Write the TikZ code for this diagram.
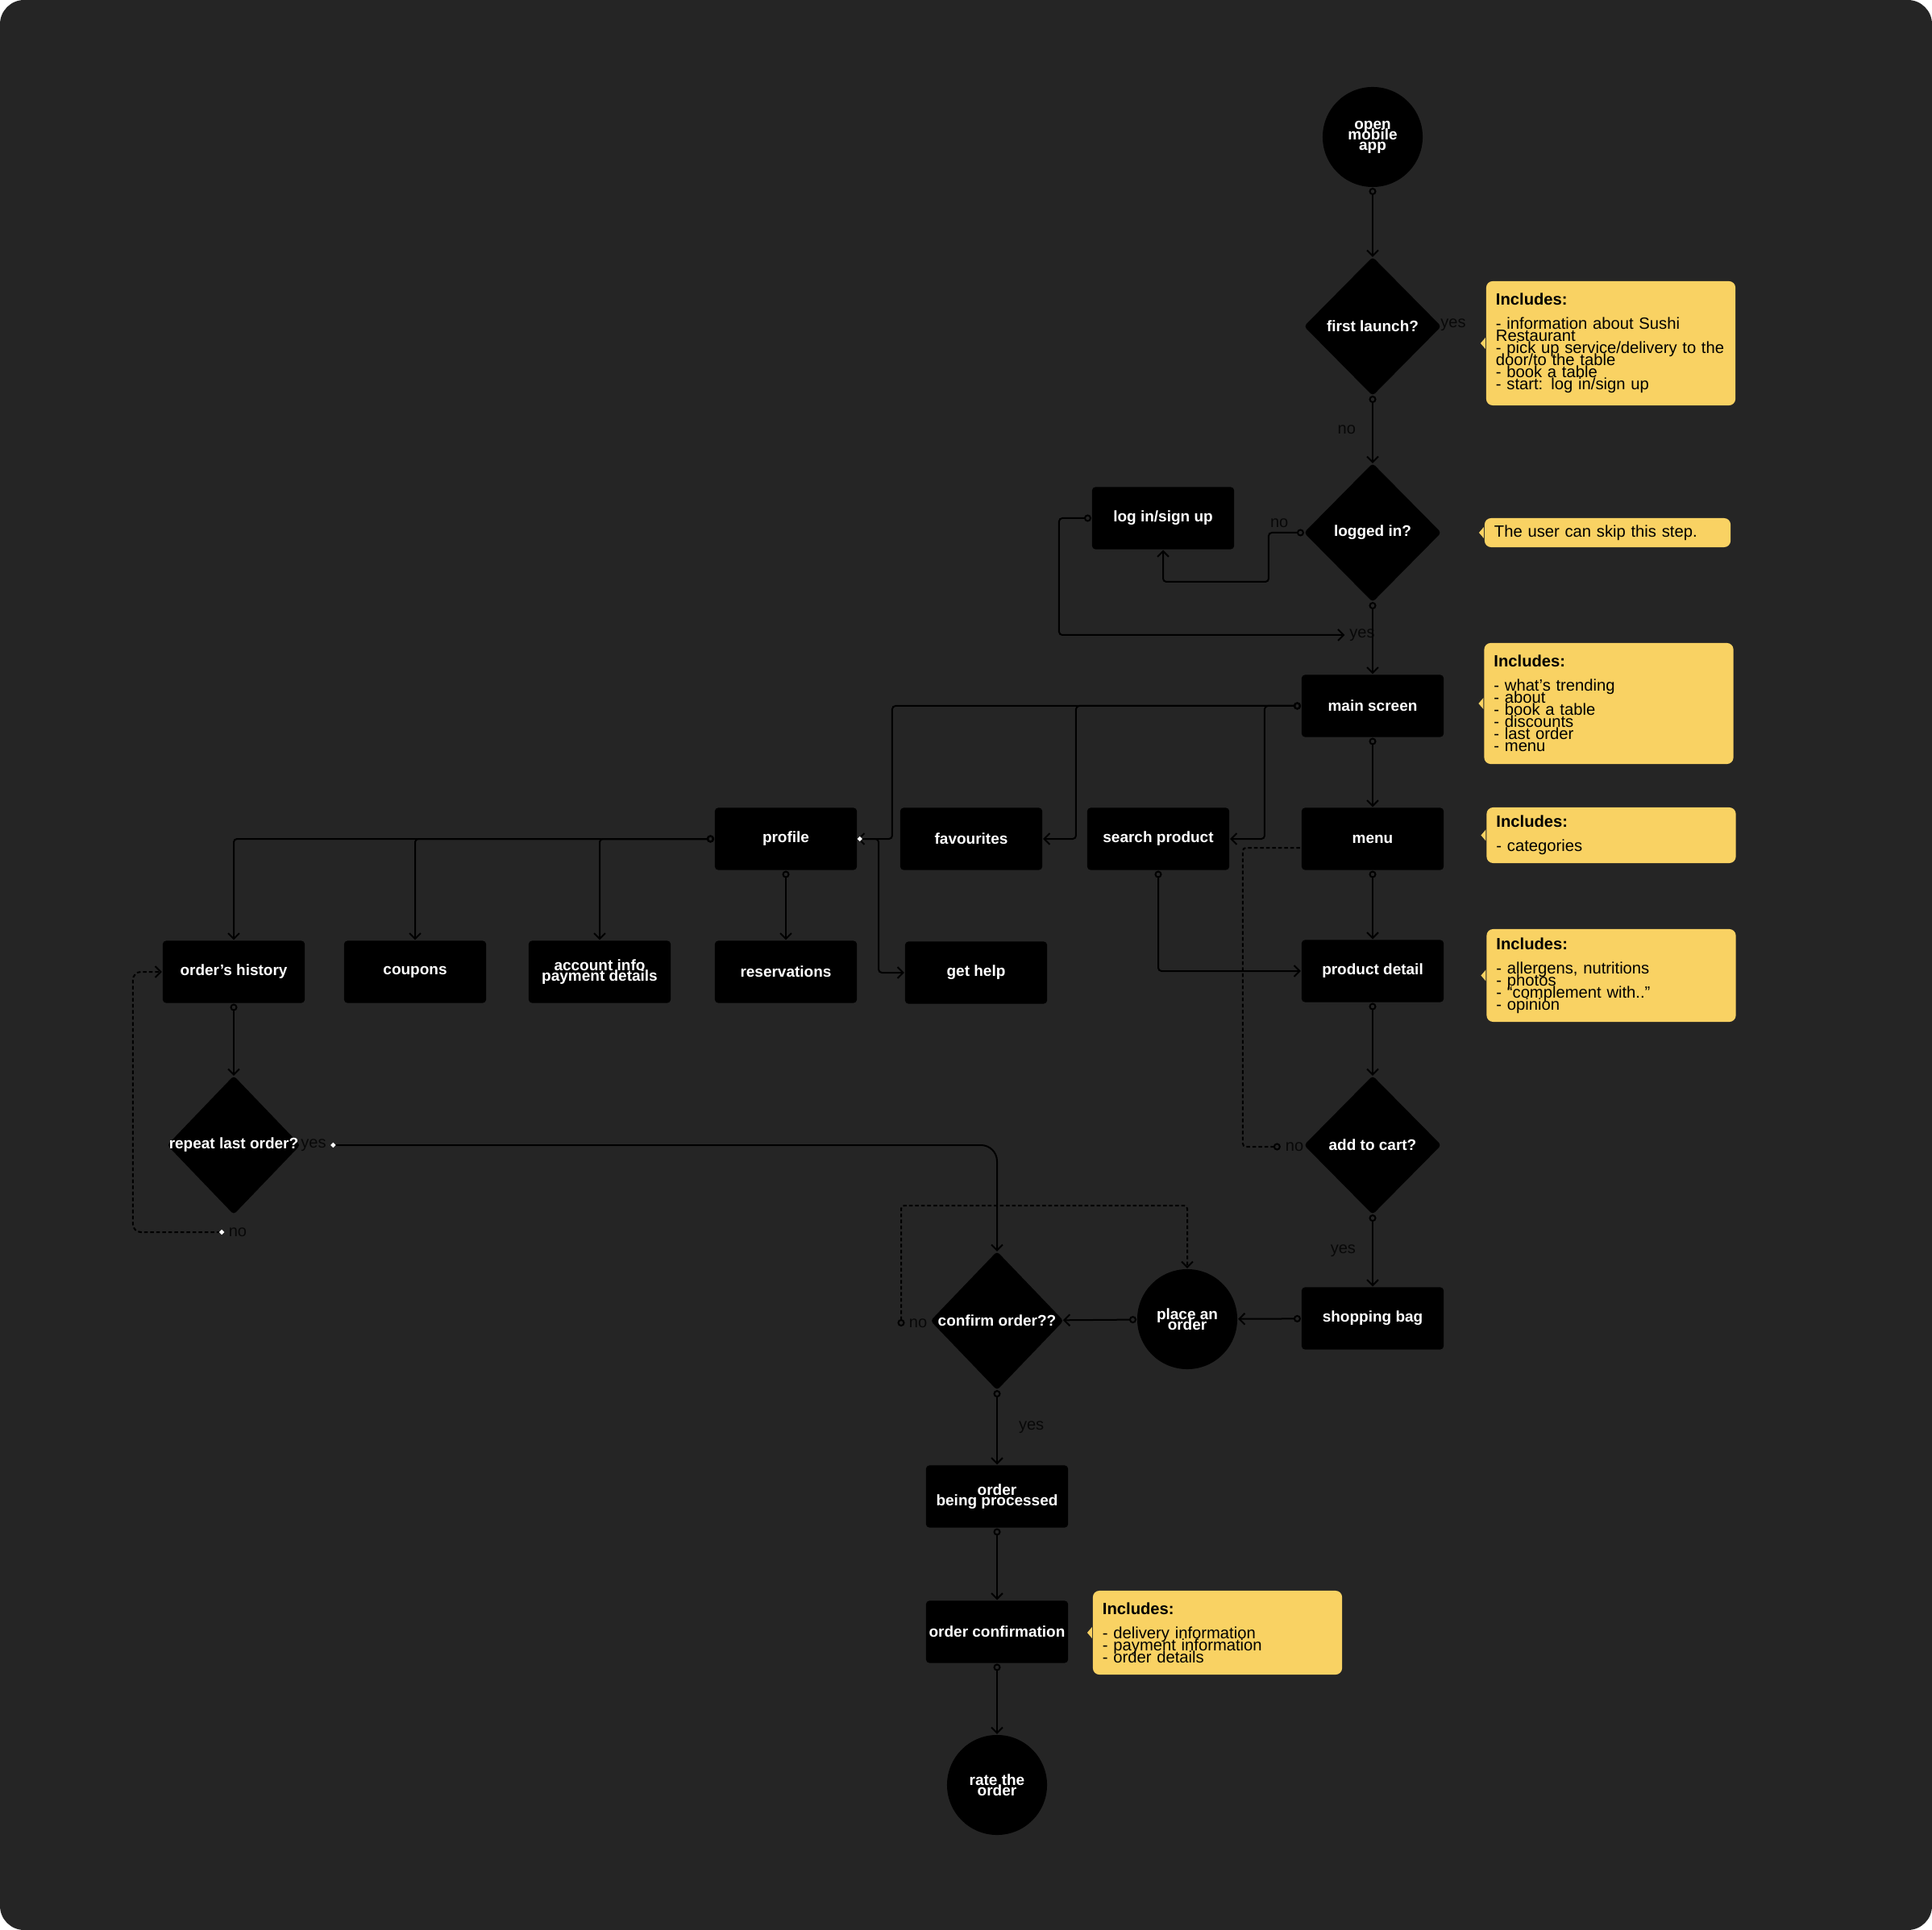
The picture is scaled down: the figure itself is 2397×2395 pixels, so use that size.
\documentclass[tikz,border=0pt]{standalone}
\usepackage{fontspec}
\setmainfont{Liberation Sans}
\usetikzlibrary{arrows.meta, shapes.geometric}
\definecolor{boardbg}{RGB}{37,37,37}
\definecolor{noteyel}{RGB}{249,210,99}
\definecolor{lbldark}{RGB}{8,8,8}
\newcommand\tightlines{\setlength{\lineskiplimit}{-10pt}}

\begin{document}
\begin{tikzpicture}[
    x=0.01cm, y=-0.01cm,
    line width=0.2mm,
    mark/.tip={Circle[open, length=0.9mm]},
    dot/.tip={Circle[length=0.55mm, color=white, fill=white]},
    barb/.tip={Straight Barb[length=0.7mm, width=1.4mm]},
    box/.style={rectangle, fill=black, rounded corners=0.4mm, minimum width=17.6mm,
                minimum height=7.7mm, inner sep=0, text=white, align=center,
                font={\fontsize{5.4}{3.7}\selectfont\tightlines\bfseries}},
    term/.style={circle, fill=black, minimum size=12.4mm, inner sep=0, text=white,
                 align=center, font={\fontsize{5.4}{3.7}\selectfont\tightlines\bfseries}},
    decision/.style={diamond, fill=black, rounded corners=0.4mm, minimum width=17mm,
                     minimum height=17.2mm, inner sep=0, outer sep=0},
    dtext/.style={text=white, inner sep=0, font=\fontsize{5.4}{3.7}\selectfont\bfseries},
    note/.style={rectangle, fill=noteyel, rounded corners=0.8mm, text width=28.5mm,
                 inner xsep=1.2mm, inner ysep=0, align=left, text=black,
                 font={\fontsize{5.75}{4.27}\selectfont\tightlines}},
    lbl/.style={text=lbldark, inner sep=0.5mm, font=\fontsize{5.7}{6}\selectfont},
    conn/.style={mark-barb, black, rounded corners=0.4mm},
    dotconn/.style={dot-barb, black, rounded corners=0.4mm},
    dashy/.style={dash pattern=on 0.45mm off 0.3mm},
]
    \fill[white] (0,0) rectangle (2397,2395);
    \fill[boardbg, rounded corners=3mm] (0,0) rectangle (2397,2395);
    \useasboundingbox (0,0) rectangle (2397,2395);

    \node[term] (app) at (1703,170) {open\\mobile\\app};
    \node[decision, label={[dtext]center:first launch?}] (first) at (1703,405) {};
    \node[decision, label={[dtext]center:logged in?}] (logged) at (1703,661) {};
    \node[box] (login) at (1443,643) {log in/sign up};
    \node[box] (main) at (1703,876) {main screen};
    \node[box] (menu) at (1703,1041) {menu};
    \node[box] (search) at (1437,1041) {search product};
    \node[box] (favs) at (1205,1041) {favourites};
    \node[box] (profile) at (975,1041) {profile};
    \node[box] (detail) at (1703,1205) {product detail};
    \node[decision, label={[dtext]center:add to cart?}] (cart) at (1703,1421) {};
    \node[box] (bag) at (1703,1636) {shopping bag};
    \node[term] (place) at (1473,1637) {place an\\order};
    \node[decision, minimum width=16.5mm, label={[dtext]center:confirm order??}] (confirm) at (1237,1639) {};
    \node[box] (proc) at (1237,1857) {order\\being processed};
    \node[box] (confirmation) at (1237,2025) {order confirmation};
    \node[term] (rate) at (1237,2215) {rate the\\order};

    \node[box] (hist) at (290,1206) {order’s history};
    \node[box] (coupons) at (515,1206) {coupons};
    \node[box] (account) at (744,1206) {account info\\payment details};
    \node[box] (reserv) at (975,1206) {reservations};
    \node[box] (help) at (1211,1207) {get help};
    \node[decision, minimum width=16.5mm, label={[dtext]center:repeat last order?}] (repeat) at (290,1421) {};

    \node[note, minimum height=15.4mm] (n1) at (1998.5,426) {\textbf{Includes:}\\[1.5mm]- information about Sushi\\Restaurant\\- pick up service/delivery to the\\door/to the table\\- book a table\\- start: log in/sign up};
    \node[note, text width=28.1mm, minimum height=3.6mm] (skip) at (1994.5,661) {The user can skip this step.};
    \node[note, minimum height=15mm] (n2) at (1996,873) {\textbf{Includes:}\\[1.5mm]- what’s trending\\- about\\- book a table\\- discounts\\- last order\\- menu};
    \node[note, minimum height=6.9mm] (n3) at (1999,1036.5) {\textbf{Includes:}\\[1.5mm]- categories};
    \node[note, minimum height=11.5mm] (n4) at (1999,1210.5) {\textbf{Includes:}\\[1.5mm]- allergens, nutritions\\- photos\\- “complement with..”\\- opinion};
    \node[note, minimum height=10.4mm] (n5) at (1510.5,2026) {\textbf{Includes:}\\[1.5mm]- delivery information\\- payment information\\- order details};
    \foreach \n in {n1,skip,n2,n3,n4,n5}
        \fill[noteyel] ([yshift=0.7mm]\n.west) -- ++(-6,7) -- ++(6,7) -- cycle;

    \node[lbl] (yes1) at (1803,403) {yes};
    \node[lbl] (yes2) at (1690,788) {yes};
    \node[lbl] (no3) at (1606,1423) {no};
    \node[lbl] (no4) at (1139,1642) {no};
    \node[lbl] (yes3) at (389,1421) {yes};
    \node[lbl] (no5) at (295,1529) {no};
    \coordinate (no4mark) at (1118,1646);

    \draw[conn] (app) -- (first);
    \draw[conn] (first) -- node[lbl, left=1.5mm] (no1) {no} (logged);
    \draw[conn] (logged.west) -- node[lbl, above, pos=0.7] (no2) {no} ++(-44,0) -- ++(0,61) -| (login);
    \draw[conn] (login.west) -- ++(-40,0) |- (yes2.west);
    \draw[conn] (logged) -- (main);
    \draw[conn] (main) -- (menu);
    \draw[conn] (main.west) -- ++(-45,0) |- (search.east);
    \draw[conn] (main.west) -- ++(-279,0) |- (favs.east);
    \draw[conn] (main.west) -- ++(-507,0) |- (profile.east);
    \draw[dotconn] (profile.east) -- ++(26,0) |- (help.west);
    \draw[conn] (profile.west) -| (hist);
    \draw[conn] (profile.west) -| (coupons);
    \draw[conn] (profile.west) -| (account);
    \draw[conn] (profile) -- (reserv);
    \draw[conn] (search) |- (detail);
    \draw[conn] (menu) -- (detail);
    \draw[conn] (detail) -- (cart);
    \draw[mark-, black, dashy, rounded corners=0.4mm] (no3.west) -- ++(-47,0) |- ([yshift=-1.1mm]menu.west);
    \draw[conn] (cart) -- node[lbl, left=1.5mm] (yes4) {yes} (bag);
    \draw[conn] (bag) -- (place);
    \draw[conn] (place) -- (confirm);
    \draw[conn, dashy] (no4mark) -- ++(0,-150) -| (place);
    \draw[dotconn, rounded corners=2mm] (yes3.east) -| (confirm);
    \draw[conn] (confirm) -- node[lbl, right=2.1mm] (yes5) {yes} (proc);
    \draw[conn] (proc) -- (confirmation);
    \draw[conn] (confirmation) -- (rate);
    \draw[conn] (hist) -- (repeat);
    \draw[dotconn, dashy, rounded corners=1mm] (no5.west) -- ++(-113,0) |- (hist);
\end{tikzpicture}
\end{document}
